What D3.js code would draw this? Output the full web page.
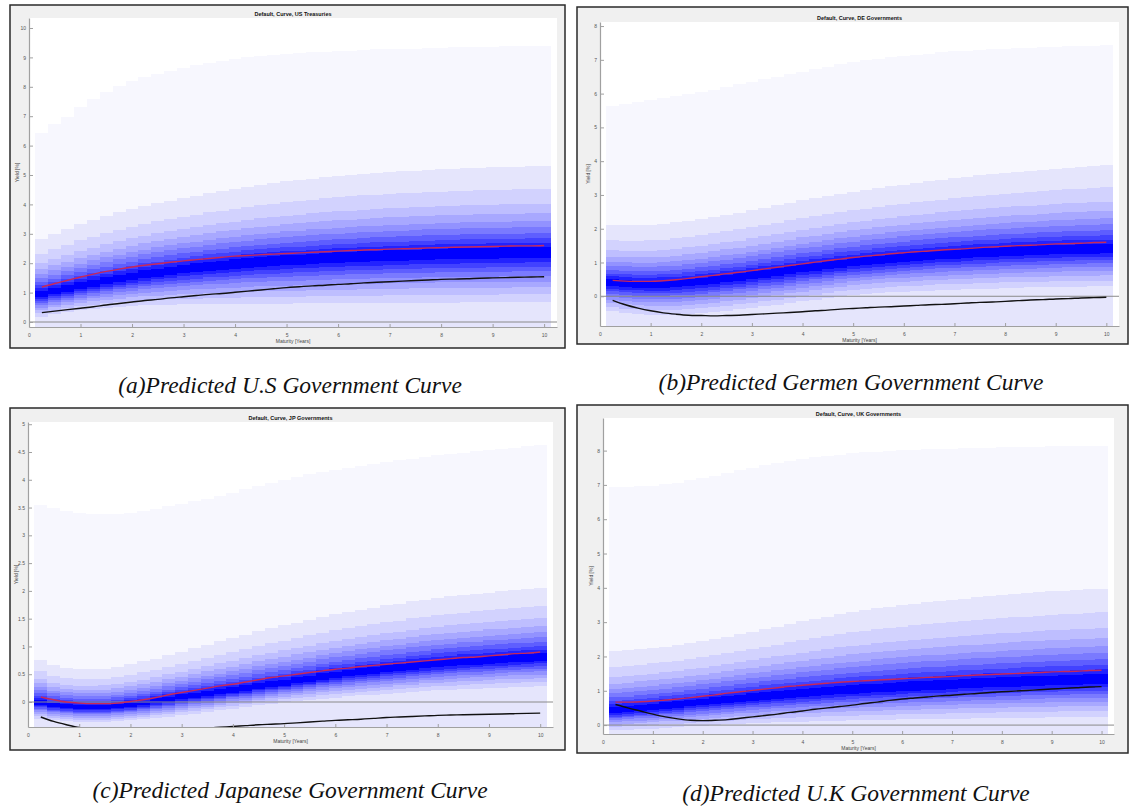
<!DOCTYPE html>
<html><head><meta charset="utf-8">
<script src="https://cdn.jsdelivr.net/npm/d3@7"></script>
<style>body{margin:0;background:#fff;} svg{display:block;}</style>
</head><body><svg id="c" width="1129" height="806"></svg>
<script>
// ---------- categories / ticks ----------
const maturities = [0.25,0.5,0.75,1,1.25,1.5,1.75,2,2.25,2.5,2.75,3,3.25,3.5,3.75,4,4.25,4.5,4.75,5,5.25,5.5,5.75,6,6.25,6.5,6.75,7,7.25,7.5,7.75,8,8.25,8.5,8.75,9,9.25,9.5,9.75,10];
const xTicks = [0,1,2,3,4,5,6,7,8,9,10];
const usTicks = [0,1,2,3,4,5,6,7,8,9,10];
const deTicks = [0,1,2,3,4,5,6,7,8];
const jpTicks = [0,0.5,1,1.5,2,2.5,3,3.5,4,4.5,5];
const ukTicks = [0,1,2,3,4,5,6,7,8];

// ---------- US Treasuries ----------
const usPaleTop = [6.43,6.73,6.98,7.30,7.58,7.83,8.03,8.20,8.33,8.45,8.55,8.65,8.74,8.82,8.89,8.95,9.00,9.05,9.09,9.12,9.15,9.17,9.20,9.22,9.23,9.25,9.27,9.28,9.29,9.30,9.32,9.33,9.34,9.35,9.36,9.37,9.38,9.38,9.39,9.40];
const usLavTop = [2.82,3.00,3.17,3.33,3.47,3.60,3.73,3.85,3.95,4.04,4.13,4.22,4.30,4.38,4.45,4.52,4.59,4.66,4.72,4.78,4.83,4.88,4.93,4.97,5.00,5.04,5.07,5.10,5.12,5.15,5.17,5.19,5.21,5.23,5.25,5.26,5.27,5.28,5.29,5.30];
const usCentre = [0.92,1.02,1.11,1.20,1.29,1.37,1.45,1.52,1.59,1.65,1.71,1.77,1.82,1.87,1.91,1.95,1.99,2.02,2.05,2.08,2.10,2.13,2.15,2.17,2.19,2.21,2.22,2.24,2.25,2.26,2.28,2.29,2.30,2.31,2.31,2.32,2.33,2.33,2.34,2.34];
const usFanBottom = [0.17,0.27,0.34,0.40,0.45,0.49,0.52,0.55,0.57,0.58,0.59,0.60,0.60,0.61,0.61,0.61,0.62,0.62,0.62,0.62,0.63,0.63,0.63,0.64,0.64,0.64,0.65,0.65,0.65,0.66,0.66,0.66,0.66,0.67,0.67,0.67,0.67,0.68,0.68,0.68];
const usMean = [1.19,1.31,1.42,1.53,1.63,1.72,1.80,1.87,1.93,1.98,2.03,2.08,2.12,2.16,2.20,2.24,2.26,2.29,2.31,2.33,2.35,2.37,2.39,2.41,2.43,2.45,2.46,2.48,2.49,2.50,2.52,2.53,2.54,2.55,2.56,2.57,2.58,2.59,2.59,2.60];
const usActual = [0.32,0.37,0.42,0.47,0.52,0.58,0.63,0.68,0.73,0.77,0.82,0.86,0.90,0.94,0.97,1.01,1.05,1.09,1.13,1.17,1.20,1.23,1.25,1.28,1.30,1.33,1.35,1.37,1.39,1.41,1.43,1.45,1.46,1.47,1.49,1.50,1.51,1.52,1.53,1.54];

// ---------- DE Governments ----------
const dePaleTop = [5.63,5.68,5.74,5.80,5.86,5.92,5.98,6.05,6.12,6.20,6.27,6.35,6.43,6.50,6.58,6.65,6.73,6.80,6.88,6.95,6.99,7.03,7.08,7.12,7.15,7.18,7.22,7.25,7.27,7.29,7.31,7.33,7.35,7.36,7.38,7.39,7.40,7.41,7.42,7.43];
const deLavTop = [2.10,2.10,2.11,2.12,2.15,2.19,2.24,2.30,2.36,2.42,2.48,2.55,2.62,2.70,2.77,2.85,2.91,2.98,3.04,3.10,3.15,3.20,3.25,3.30,3.35,3.40,3.45,3.50,3.54,3.58,3.61,3.65,3.68,3.71,3.75,3.78,3.81,3.83,3.86,3.88];
const deCentre = [0.38,0.36,0.34,0.33,0.34,0.36,0.39,0.42,0.46,0.51,0.55,0.60,0.65,0.70,0.75,0.80,0.85,0.89,0.94,0.98,1.02,1.05,1.09,1.12,1.15,1.17,1.20,1.22,1.24,1.26,1.28,1.30,1.31,1.32,1.34,1.35,1.36,1.37,1.37,1.38];
const deFanBottom = [-0.45,-0.50,-0.53,-0.55,-0.56,-0.55,-0.53,-0.50,-0.47,-0.43,-0.39,-0.35,-0.30,-0.25,-0.20,-0.15,-0.10,-0.05,0.00,0.05,0.07,0.10,0.12,0.14,0.16,0.17,0.19,0.20,0.21,0.22,0.23,0.24,0.25,0.26,0.26,0.27,0.28,0.28,0.29,0.29];
const deMean = [0.47,0.45,0.44,0.44,0.46,0.49,0.53,0.58,0.62,0.67,0.71,0.76,0.81,0.86,0.91,0.96,1.01,1.06,1.10,1.15,1.19,1.22,1.26,1.29,1.32,1.34,1.37,1.39,1.41,1.44,1.46,1.48,1.50,1.51,1.53,1.55,1.56,1.57,1.59,1.60];
const deActual = [-0.12,-0.25,-0.35,-0.43,-0.49,-0.53,-0.56,-0.57,-0.58,-0.57,-0.56,-0.54,-0.52,-0.50,-0.48,-0.46,-0.43,-0.41,-0.38,-0.36,-0.34,-0.32,-0.31,-0.29,-0.27,-0.25,-0.24,-0.22,-0.20,-0.18,-0.17,-0.15,-0.13,-0.11,-0.10,-0.08,-0.07,-0.05,-0.04,-0.03];

// ---------- JP Governments ----------
const jpPaleTop = [3.54,3.49,3.44,3.40,3.38,3.38,3.39,3.41,3.44,3.48,3.52,3.57,3.61,3.66,3.71,3.77,3.83,3.89,3.95,4.00,4.05,4.10,4.14,4.18,4.22,4.25,4.29,4.32,4.35,4.38,4.41,4.44,4.47,4.49,4.52,4.54,4.56,4.58,4.60,4.62];
const jpLavTop = [0.75,0.66,0.61,0.59,0.59,0.60,0.63,0.68,0.73,0.78,0.84,0.90,0.97,1.03,1.09,1.15,1.21,1.27,1.33,1.38,1.43,1.48,1.53,1.58,1.62,1.66,1.70,1.74,1.77,1.81,1.84,1.87,1.90,1.92,1.95,1.97,1.99,2.01,2.03,2.05];
const jpCentre = [-0.02,-0.06,-0.08,-0.10,-0.10,-0.10,-0.08,-0.06,-0.03,0.01,0.04,0.08,0.11,0.14,0.17,0.20,0.23,0.27,0.30,0.33,0.37,0.40,0.44,0.47,0.50,0.53,0.55,0.58,0.60,0.63,0.65,0.67,0.69,0.71,0.72,0.74,0.75,0.77,0.78,0.79];
const jpFanBottom = [-0.30,-0.33,-0.35,-0.36,-0.36,-0.36,-0.35,-0.33,-0.31,-0.29,-0.27,-0.24,-0.21,-0.18,-0.15,-0.12,-0.09,-0.06,-0.03,0.00,0.02,0.04,0.06,0.08,0.10,0.12,0.13,0.15,0.17,0.18,0.20,0.21,0.22,0.23,0.24,0.25,0.26,0.27,0.27,0.28];
const jpMean = [0.09,0.04,0.00,-0.02,-0.03,-0.03,-0.02,0.01,0.04,0.08,0.13,0.17,0.21,0.25,0.29,0.32,0.36,0.40,0.44,0.47,0.50,0.53,0.56,0.59,0.61,0.64,0.66,0.68,0.70,0.72,0.74,0.76,0.78,0.80,0.81,0.83,0.85,0.87,0.88,0.90];
const jpActual = [-0.27,-0.35,-0.41,-0.46,-0.48,-0.50,-0.51,-0.52,-0.52,-0.52,-0.51,-0.50,-0.49,-0.47,-0.455,-0.44,-0.425,-0.41,-0.40,-0.39,-0.375,-0.36,-0.345,-0.33,-0.32,-0.31,-0.295,-0.28,-0.27,-0.26,-0.25,-0.24,-0.235,-0.23,-0.225,-0.22,-0.215,-0.21,-0.205,-0.20];

// ---------- UK Governments ----------
const ukPaleTop = [6.94,6.95,6.96,6.98,7.02,7.07,7.13,7.20,7.27,7.34,7.42,7.50,7.57,7.63,7.69,7.75,7.80,7.84,7.88,7.92,7.95,7.97,7.99,8.01,8.03,8.04,8.05,8.06,8.07,8.08,8.09,8.10,8.10,8.11,8.11,8.12,8.12,8.13,8.13,8.13];
const ukLavTop = [2.16,2.18,2.21,2.25,2.29,2.34,2.39,2.45,2.51,2.58,2.65,2.72,2.80,2.87,2.95,3.02,3.09,3.16,3.23,3.30,3.35,3.40,3.45,3.50,3.54,3.58,3.61,3.65,3.68,3.72,3.75,3.78,3.81,3.84,3.87,3.90,3.92,3.94,3.96,3.98];
const ukCentre = [0.40,0.43,0.47,0.50,0.54,0.57,0.61,0.64,0.68,0.72,0.75,0.79,0.82,0.85,0.87,0.90,0.93,0.95,0.98,1.00,1.02,1.04,1.06,1.08,1.10,1.12,1.13,1.15,1.17,1.18,1.20,1.21,1.22,1.24,1.25,1.26,1.27,1.28,1.29,1.30];
const ukFanBottom = [-0.15,-0.13,-0.12,-0.10,-0.08,-0.06,-0.04,-0.02,0.00,0.02,0.04,0.05,0.06,0.08,0.09,0.10,0.11,0.12,0.13,0.14,0.15,0.16,0.16,0.17,0.17,0.18,0.18,0.19,0.19,0.20,0.20,0.21,0.21,0.22,0.22,0.23,0.23,0.23,0.24,0.24];
const ukMean = [0.67,0.67,0.68,0.70,0.73,0.76,0.80,0.84,0.88,0.93,0.97,1.01,1.05,1.09,1.13,1.16,1.19,1.22,1.25,1.27,1.29,1.31,1.33,1.35,1.37,1.39,1.40,1.42,1.44,1.46,1.47,1.49,1.50,1.52,1.53,1.55,1.56,1.57,1.59,1.60];
const ukActual = [0.60,0.50,0.41,0.32,0.24,0.18,0.14,0.13,0.14,0.16,0.20,0.24,0.28,0.32,0.37,0.41,0.46,0.50,0.54,0.58,0.63,0.67,0.72,0.76,0.79,0.82,0.85,0.87,0.90,0.92,0.95,0.97,0.99,1.01,1.03,1.05,1.07,1.09,1.11,1.12];

// ---------- band structure ----------
const bandColors = ["#f7f7fe","#e5e5fc","#d2d2fe","#bebeff","#a8a8ff","#9292ff","#7a7aff","#5e5eff","#4242ff","#2222ff","#0000ff"];
const upperFractions = [0.74,0.57,0.46,0.37,0.30,0.23,0.17,0.12,0.07];
const lowerFractions = [1.00,0.84,0.70,0.58,0.47,0.37,0.28,0.19,0.10];
const halfStep = 0.125;

// ---------- layout ----------
const panels = [
  {title:"Default, Curve, US Treasuries", caption:"(a)Predicted U.S Government Curve",
   pale:usPaleTop, lav:usLavTop, centre:usCentre, bottom:usFanBottom, mean:usMean, actual:usActual,
   yTicks:usTicks, yDomain:[-0.17,10.34], xDomain:[0,10.25],
   frame:[10,5,555,343], axes:{l:29,r:557,t:18,b:327}, cap:[290,393]},
  {title:"Default, Curve, DE Governments", caption:"(b)Predicted Germen Government Curve",
   pale:dePaleTop, lav:deLavTop, centre:deCentre, bottom:deFanBottom, mean:deMean, actual:deActual,
   yTicks:deTicks, yDomain:[-0.88,8.12], xDomain:[0,10.25],
   frame:[577,7,551,337], axes:{l:600,r:1119,t:22,b:326}, cap:[851,390]},
  {title:"Default, Curve, JP Governments", caption:"(c)Predicted Japanese Government Curve",
   pale:jpPaleTop, lav:jpLavTop, centre:jpCentre, bottom:jpFanBottom, mean:jpMean, actual:jpActual,
   yTicks:jpTicks, yDomain:[-0.45,5.04], xDomain:[0,10.25],
   frame:[10,408,555,342], axes:{l:28,r:553,t:422,b:727}, cap:[290,798]},
  {title:"Default, Curve, UK Governments", caption:"(d)Predicted U.K Government Curve",
   pale:ukPaleTop, lav:ukLavTop, centre:ukCentre, bottom:ukFanBottom, mean:ukMean, actual:ukActual,
   yTicks:ukTicks, yDomain:[-0.26,8.95], xDomain:[0,10.25],
   frame:[577,405,551,348], axes:{l:603,r:1114,t:418,b:734}, cap:[856,801]}
];

const svg = d3.select("#c");
const defs = svg.append("defs");
const sans = "'Liberation Sans', Arial, sans-serif";

panels.forEach((p, pi) => {
  const a = p.axes;
  const g = svg.append("g");
  g.append("rect").attr("x",p.frame[0]).attr("y",p.frame[1]).attr("width",p.frame[2]).attr("height",p.frame[3])
    .attr("fill","#f0f0f0").attr("stroke","#2a2a2a").attr("stroke-width",1.5);
  g.append("rect").attr("x",a.l).attr("y",a.t).attr("width",a.r-a.l).attr("height",a.b-a.t).attr("fill","#fff");

  const x = d3.scaleLinear().domain(p.xDomain).range([a.l,a.r]);
  const y = d3.scaleLinear().domain(p.yDomain).range([a.b,a.t]);

  const cid = "clip"+pi;
  defs.append("clipPath").attr("id",cid).append("rect")
    .attr("x",a.l).attr("y",a.t).attr("width",a.r-a.l).attr("height",a.b-a.t);

  const cells = [];
  maturities.forEach((m,i) => {
    const c = p.centre[i], up = p.lav[i]-c, lo = c-p.bottom[i];
    cells.push({m, level:0, top:p.pale[i], bot:p.yDomain[0]});
    cells.push({m, level:1, top:p.lav[i], bot:p.yDomain[0]});
    upperFractions.forEach((f,j) => cells.push({m, level:j+2, top:c+up*f, bot:c-lo*lowerFractions[j]}));
  });
  const fan = g.append("g").attr("clip-path",`url(#${cid})`).attr("shape-rendering","crispEdges");
  fan.selectAll("rect").data(cells).join("rect")
    .attr("x", d => Math.round(x(d.m-halfStep)))
    .attr("width", d => Math.round(x(d.m+halfStep))-Math.round(x(d.m-halfStep)))
    .attr("y", d => y(d.top))
    .attr("height", d => Math.max(0, y(d.bot)-y(d.top)))
    .attr("fill", d => bandColors[d.level]);

  // zero line
  g.append("line").attr("x1",a.l).attr("x2",a.r).attr("y1",y(0)).attr("y2",y(0))
    .attr("stroke","#8a8a8a").attr("stroke-width",1);

  const lines = g.append("g").attr("clip-path",`url(#${cid})`);
  const lineGen = arr => d3.line().x((d,i)=>x(maturities[i])).y(d=>y(d)).curve(d3.curveMonotoneX)(arr);
  lines.append("path").attr("d",lineGen(p.mean)).attr("fill","none").attr("stroke","#c8285a").attr("stroke-width",1.4);
  lines.append("path").attr("d",lineGen(p.actual)).attr("fill","none").attr("stroke","#111").attr("stroke-width",1.4);

  // axes
  const fmt = d3.format("~g");
  const yAxis = g.append("g").attr("transform",`translate(${a.l},0)`)
    .call(d3.axisLeft(y).tickValues(p.yTicks).tickFormat(fmt).tickSizeInner(-4).tickSizeOuter(0).tickPadding(3));
  const xAxis = g.append("g").attr("transform",`translate(0,${a.b})`)
    .call(d3.axisBottom(x).tickValues(xTicks).tickFormat(fmt).tickSizeInner(-3).tickSizeOuter(0).tickPadding(6));
  [yAxis,xAxis].forEach(ax => {
    ax.select(".domain").attr("stroke","#a0a0a0").attr("stroke-width",1.2);
    ax.selectAll(".tick line").attr("stroke","#a0a0a0");
    ax.selectAll(".tick text").attr("fill","#555").attr("font-size",5).attr("font-family",sans);
  });

  g.append("text").attr("x",(a.l+a.r)/2).attr("y",a.t-2.5).attr("text-anchor","middle")
    .attr("font-family",sans).attr("font-weight","bold").attr("font-size",5.5).attr("fill","#111").text(p.title);
  g.append("text").attr("x",(a.l+a.r)/2).attr("y",a.b+16).attr("text-anchor","middle")
    .attr("font-family",sans).attr("font-size",5).attr("fill","#444").text("Maturity [Years]");
  g.append("text").attr("transform",`translate(${a.l-10},${(a.t+a.b)/2}) rotate(-90)`).attr("text-anchor","middle")
    .attr("font-family",sans).attr("font-size",5).attr("fill","#444").text("Yield [%]");

  svg.append("text").attr("x",p.cap[0]).attr("y",p.cap[1]).attr("text-anchor","middle")
    .attr("font-family","'Liberation Serif', 'Times New Roman', serif").attr("font-style","italic")
    .attr("font-size",23.5).attr("fill","#111").text(p.caption);
});
</script></body></html>
